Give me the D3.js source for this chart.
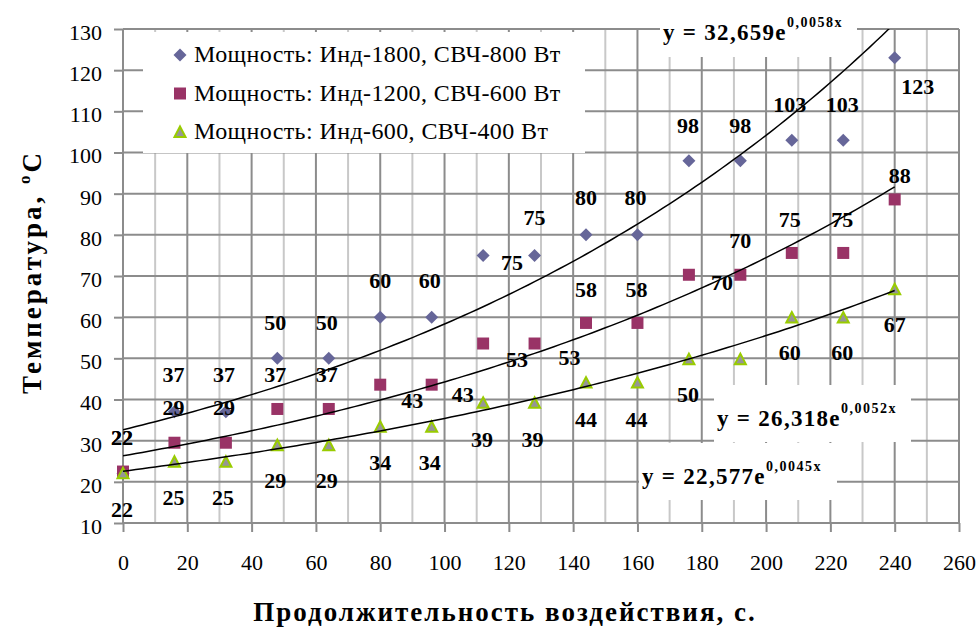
<!DOCTYPE html>
<html>
<head>
<meta charset="utf-8">
<script src="https://cdn.jsdelivr.net/npm/d3@7"></script>
<style>
body{margin:0;background:#fff;}
</style>
</head>
<body>
<div id="chart"></div>
<script>
// heating time, s
var times=[0,16,32,48,64,80,96,112,128,144,160,176,192,208,224,240];
// temperatures per power mode (as plotted)
var tempInd1800=[22,37,37,50,50,60,60,75,75,80,80,98,98,103,103,123];
var tempInd1200=[22.5,29.5,29.5,37.7,37.7,43.6,43.6,53.6,53.6,58.6,58.6,70.3,70.3,75.6,75.6,88.6];
var tempInd600=[22.1,24.9,24.9,28.9,28.9,33.4,33.4,39.2,39.2,44.1,44.1,49.8,49.8,59.9,59.9,66.8];
// data label texts
var labelsInd1800=['22','37','37','50','50','60','60','75','75','80','80','98','98','103','103','123'];
var labelsInd1200=['22','29','29','37','37','43','43','53','53','58','58','70','70','75','75','88'];
var labelsInd600=['22','25','25','29','29','34','34','39','39','44','44','50','50','60','60','67'];
var seriesNames=['Мощность: Инд-1800, СВЧ-800 Вт','Мощность: Инд-1200, СВЧ-600 Вт','Мощность: Инд-600, СВЧ-400 Вт'];
// exponential trend y = a*e^(b*x)
var trendA=[32.659,26.318,22.577];
var trendB=[0.0058,0.0052,0.0045];
var trendMain=['y = 32,659e','y = 26,318e','y = 22,577e'];
var trendPow=['0,0058x','0,0052x','0,0045x'];
var xTicks=[0,20,40,60,80,100,120,140,160,180,200,220,240,260];
var xMinorTicks=[10,30,50,70,90,110,130,150,170,190,210,230,250];
var yTicks=[10,20,30,40,50,60,70,80,90,100,110,120,130];

// label nudges in px (dx, baseline dy) relative to the point
var nudge1800=[[-1,-29],[-1,-30],[-2,-30],[-2,-28],[-2,-28],[0,-29],[-2,-29],[29,15],[0,-30],[0,-30],[-2,-30],[-1,-28],[0,-28],[-2,-28],[-1,-28],[23,36]];
var nudge1200=[[-1,-27],[-1,-28],[-2,-28],[-2,-27],[-2,-27],[32,23],[31,17],[34,23],[35,21],[0,-26],[-1,-26],[33,15],[0,-27],[-2,-26],[-1,-26],[5,-16]];
var nudge600=[[-1,44],[-1,43],[-3,43],[-2,43],[-2,43],[0,43],[-2,43],[-1,44],[-2,44],[0,44],[-1,44],[-1,43],[0,43],[-2,42],[-1,42],[0,43]];

var markerPath=['M0,-6.5L6.5,0L0,6.5L-6.5,0Z','M-6,-6H6V6H-6Z','M0,-5.5L5.5,5H-5.5Z'];
var markerFill=['#666699','#993366','#969696'];
var markerStroke=['none','none','#99cc00'];

var FONT='Liberation Serif';

var margin={left:123,right:20,top:29,bottom:107};
var width=979-margin.left-margin.right;
var height=630-margin.top-margin.bottom;

var svg=d3.select('#chart').append('svg')
    .attr('width',979)
    .attr('height',630)
    .attr('font-family',FONT);
var g=svg.append('g')
    .attr('transform','translate('+margin.left+','+margin.top+')');

var x=d3.scaleLinear().domain([0,260]).range([0,width]);
var y=d3.scaleLinear().domain([10,130]).range([height,0]);

// grid
g.selectAll('.vminor').data(xMinorTicks).enter().append('line')
    .attr('x1',function(d){return x(d);}).attr('x2',function(d){return x(d);})
    .attr('y1',0).attr('y2',height)
    .attr('stroke','#c8c8c8').attr('stroke-width',2);
g.selectAll('.vmajor').data(xTicks).enter().append('line')
    .attr('x1',function(d){return x(d);}).attr('x2',function(d){return x(d);})
    .attr('y1',0).attr('y2',height)
    .attr('stroke','#8c8c8c').attr('stroke-width',2);
g.selectAll('.hgrid').data(yTicks).enter().append('line')
    .attr('x1',0).attr('x2',width)
    .attr('y1',function(d){return y(d);}).attr('y2',function(d){return y(d);})
    .attr('stroke','#8c8c8c').attr('stroke-width',2);

// axes
var yAxis=d3.axisLeft(y).tickValues(yTicks).tickSize(9).tickPadding(12);
var yG=g.append('g').call(yAxis)
    .attr('font-family',FONT).attr('font-size',22);
yG.select('.domain').remove();
yG.selectAll('line').attr('stroke','#8c8c8c').attr('stroke-width',2);
yG.selectAll('text').attr('dy','0.47em').attr('fill','#000');

var xAxis=d3.axisBottom(x).tickValues(xTicks).tickSize(9).tickPadding(22);
var xG=g.append('g')
    .attr('transform','translate(0,'+height+')')
    .call(xAxis)
    .attr('font-family',FONT).attr('font-size',22);
xG.select('.domain').remove();
xG.selectAll('line').attr('stroke','#8c8c8c').attr('stroke-width',2);
xG.selectAll('text').attr('fill','#000');

// legend
svg.append('rect')
    .attr('x',143).attr('y',32)
    .attr('width',442).attr('height',121)
    .attr('fill','#fff');
seriesNames.forEach(function(name,i){
    var row=svg.append('g').attr('transform','translate(180,'+(55+i*38.5)+')');
    row.append('path')
        .attr('d',markerPath[i])
        .attr('fill',markerFill[i])
        .attr('stroke',markerStroke[i])
        .attr('stroke-width',2);
    row.append('text')
        .attr('font-size',24)
        .attr('letter-spacing',0.4)
        .attr('x',14).attr('y',7)
        .text(name);
});

// points
var series=[
    {values:tempInd1800,labels:labelsInd1800,nudge:nudge1800},
    {values:tempInd1200,labels:labelsInd1200,nudge:nudge1200},
    {values:tempInd600,labels:labelsInd600,nudge:nudge600}
];
series.forEach(function(s,i){
    g.selectAll('.pt'+i).data(times).enter().append('path')
        .attr('transform',function(d,j){return 'translate('+x(d)+','+y(s.values[j])+')';})
        .attr('d',markerPath[i])
        .attr('fill',markerFill[i])
        .attr('stroke',markerStroke[i])
        .attr('stroke-width',2);
});

// trend lines
svg.append('clipPath').attr('id','plotclip')
    .append('rect').attr('x',0).attr('y',0).attr('width',width).attr('height',height);
var line=d3.line()
    .x(function(d){return x(d[0]);})
    .y(function(d){return y(d[1]);});
trendA.forEach(function(a,i){
    var pts=d3.range(0,241,2).map(function(t){return [t,a*Math.exp(trendB[i]*t)];});
    g.append('path')
        .attr('clip-path','url(#plotclip)')
        .attr('d',line(pts))
        .attr('fill','none')
        .attr('stroke','#000')
        .attr('stroke-width',1.5);
});

// data labels
series.forEach(function(s,i){
    g.selectAll('.lb'+i).data(times).enter().append('text')
        .attr('font-size',22)
        .attr('font-weight','bold')
        .attr('text-anchor','middle')
        .attr('x',function(d,j){return x(d)+s.nudge[j][0];})
        .attr('y',function(d,j){return y(s.values[j])+s.nudge[j][1];})
        .text(function(d,j){return s.labels[j];});
});

// trend equation boxes
var trendBox=[[660,3,197,54],[714,385,197,57],[639,443,198,57]];
trendBox.forEach(function(b,i){
    svg.append('rect')
        .attr('x',b[0]).attr('y',b[1])
        .attr('width',b[2]).attr('height',b[3])
        .attr('fill','#fff');
    var t=svg.append('text')
        .attr('font-size',23)
        .attr('font-weight','bold')
        .attr('letter-spacing',1.3)
        .attr('x',b[0]+3)
        .attr('y',b[1]+b[3]-(i===0?17:16));
    t.append('tspan').text(trendMain[i]);
    t.append('tspan')
        .attr('dy',-13)
        .attr('font-size',14)
        .attr('letter-spacing',1.5)
        .text(trendPow[i]);
});

// axis titles
svg.append('text')
    .attr('font-size',27)
    .attr('font-weight','bold')
    .attr('letter-spacing',2)
    .attr('x',505).attr('y',621)
    .attr('text-anchor','middle')
    .text('Продолжительность воздействия, с.');
var yt=svg.append('text')
    .attr('font-size',27)
    .attr('font-weight','bold')
    .attr('letter-spacing',3)
    .attr('transform','translate(41,272) rotate(-90)')
    .attr('text-anchor','middle');
yt.append('tspan').text('Температура, ');
yt.append('tspan').attr('dy',-11).attr('font-size',17).text('o');
yt.append('tspan').attr('dy',11).text('C');
</script>
</body>
</html>
